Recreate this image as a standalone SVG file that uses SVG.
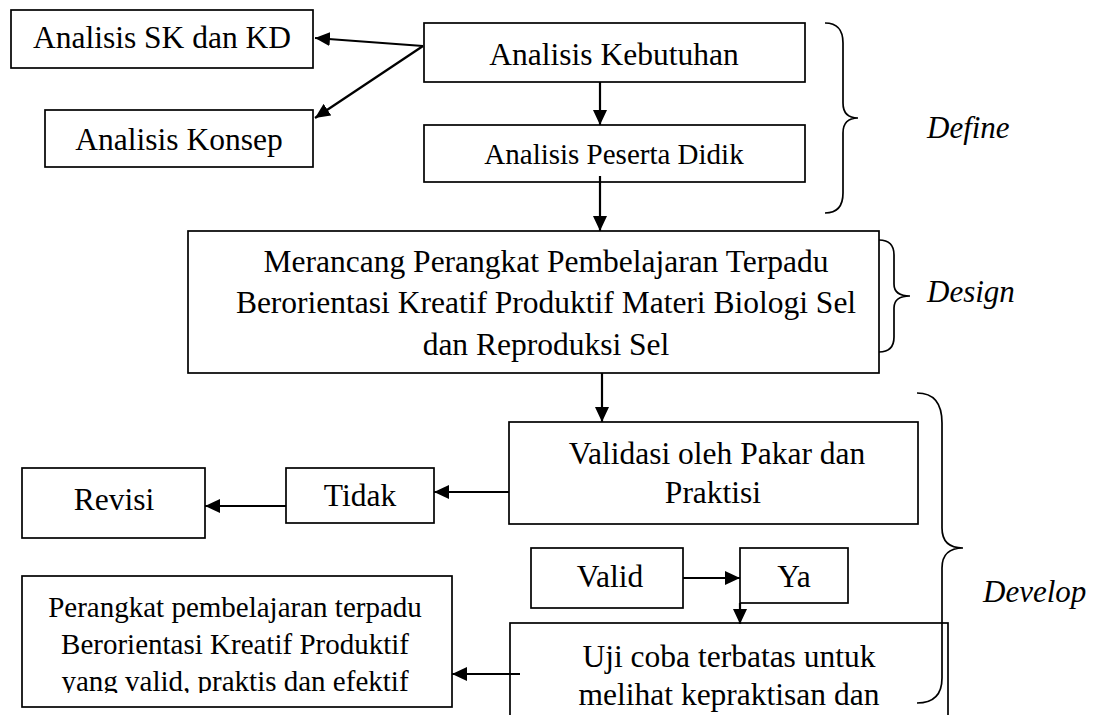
<svg xmlns="http://www.w3.org/2000/svg" width="1094" height="715" viewBox="0 0 1094 715">
<style>
.box{fill:#fff;stroke:#000;stroke-width:1.7}
.t{font-family:"Liberation Serif","Times New Roman",serif;font-size:31.5px;fill:#000;text-anchor:middle}
.s{font-size:29px}
.i{font-family:"Liberation Serif","Times New Roman",serif;font-size:31px;font-style:italic;fill:#000}
.ln{stroke:#000;stroke-width:2.2;fill:none}
.br{stroke:#000;stroke-width:1.7;fill:none}
</style>
<defs>
<marker id="ah" markerWidth="15" markerHeight="14" refX="15" refY="7" orient="auto" markerUnits="userSpaceOnUse">
<path d="M0,0 L15,7 L0,14 Z" fill="#000"/>
</marker>
<clipPath id="cp"><rect x="0" y="570" width="460" height="123"/></clipPath>
</defs>
<g id="n-sk"><rect class="box" x="11" y="10" width="302" height="58"/><text class="t" x="162" y="48">Analisis SK dan KD</text></g>
<g id="n-konsep"><rect class="box" x="45" y="110" width="268" height="57"/><text class="t" x="179" y="150">Analisis Konsep</text></g>
<g id="n-kebutuhan"><rect class="box" x="424" y="23" width="381" height="59"/><text class="t" x="614" y="65">Analisis Kebutuhan</text></g>
<g id="n-peserta"><rect class="box" x="424" y="125" width="381" height="57"/><text class="t s" x="614" y="164">Analisis Peserta Didik</text></g>
<g id="n-design"><rect class="box" x="188" y="231" width="691" height="142"/>
<text class="t" x="546" y="272">Merancang Perangkat Pembelajaran Terpadu</text>
<text class="t" x="546" y="313">Berorientasi Kreatif Produktif Materi Biologi Sel</text>
<text class="t" x="546" y="355">dan Reproduksi Sel</text></g>
<g id="n-validasi"><rect class="box" x="509" y="422" width="409" height="102"/>
<text class="t" x="717" y="464">Validasi oleh Pakar dan</text>
<text class="t" x="713" y="503">Praktisi</text></g>
<g id="n-tidak"><rect class="box" x="286" y="468" width="148" height="55"/><text class="t" x="360" y="506">Tidak</text></g>
<g id="n-revisi"><rect class="box" x="22" y="468" width="183" height="70"/><text class="t" x="114" y="510">Revisi</text></g>
<g id="n-valid"><rect class="box" x="531" y="548" width="152" height="60"/><text class="t" x="610" y="587">Valid</text></g>
<g id="n-ya"><rect class="box" x="740" y="548" width="108" height="55"/><text class="t" x="794" y="587">Ya</text></g>
<g id="n-uji"><rect class="box" x="510" y="623" width="438" height="100"/>
<text class="t" x="729" y="667">Uji coba terbatas untuk</text>
<text class="t" x="729" y="705">melihat kepraktisan dan</text></g>
<g id="n-perangkat"><rect class="box" x="22" y="576" width="430" height="131"/>
<g clip-path="url(#cp)">
<text class="t s" x="235" y="617">Perangkat pembelajaran terpadu</text>
<text class="t s" x="235" y="654">Berorientasi Kreatif Produktif</text>
<text class="t s" x="235" y="691">yang valid, praktis dan efektif</text></g></g>
<g id="connectors">
<line class="ln" x1="423" y1="46" x2="315" y2="38" marker-end="url(#ah)"/>
<line class="ln" x1="423" y1="46" x2="315" y2="118" marker-end="url(#ah)"/>
<line class="ln" x1="600" y1="82" x2="600" y2="125" marker-end="url(#ah)"/>
<line class="ln" x1="600" y1="176" x2="600" y2="231" marker-end="url(#ah)"/>
<line class="ln" x1="602" y1="373" x2="602" y2="422" marker-end="url(#ah)"/>
<line class="ln" x1="509" y1="492" x2="434" y2="492" marker-end="url(#ah)"/>
<line class="ln" x1="286" y1="506" x2="205" y2="506" marker-end="url(#ah)"/>
<line class="ln" x1="683" y1="578" x2="740" y2="578" marker-end="url(#ah)"/>
<line class="ln" x1="740" y1="603" x2="740" y2="624" marker-end="url(#ah)"/>
<line class="ln" x1="520" y1="674" x2="452" y2="674" marker-end="url(#ah)"/>
</g>
<g id="phases">
<path class="br" d="M825,23 Q843,23 843,43 L843,103 Q843,118 858,118 Q843,118 843,133 L843,193 Q843,213 825,213"/>
<text class="i" x="927" y="138">Define</text>
<path class="br" d="M879,240 Q894,240 894,255 L894,284 Q894,296 910,296 Q894,296 894,308 L894,337 Q894,352 879,352"/>
<text class="i" x="927" y="302">Design</text>
<path class="br" d="M917,393 Q942,393 942,423 L942,528 Q942,548 963,548 Q942,548 942,568 L942,678 Q942,703 917,703"/>
<text class="i" x="983" y="602">Develop</text>
</g>
</svg>
